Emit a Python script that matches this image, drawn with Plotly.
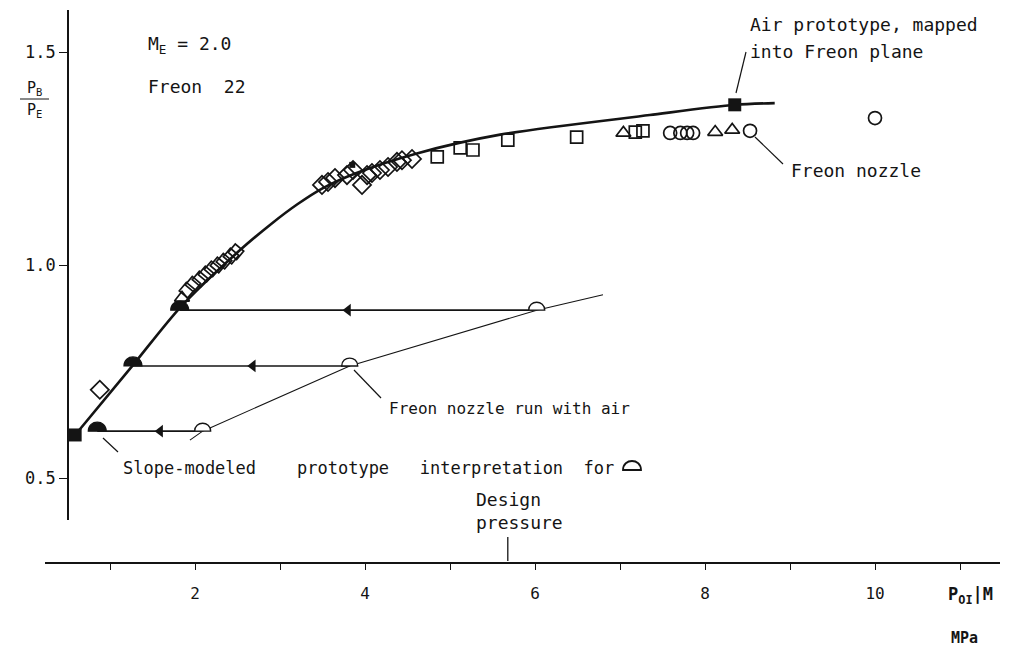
import plotly.graph_objects as go

W, H = 1013, 652
INK = "#141414"
FONT = "DejaVu Sans Mono"

# ---------------- data ----------------
# thick fitted curve through Freon nozzle data
curve_x = [0.59, 1.27, 1.82, 2.53, 2.90, 3.20, 3.50, 3.90, 4.61, 5.59, 7.35, 8.35, 8.82]
curve_y = [0.601, 0.765, 0.899, 1.035, 1.097, 1.142, 1.180, 1.216, 1.262, 1.306, 1.352, 1.376, 1.380]

# thin line: Freon nozzle run with air
air_x = [1.94, 2.09, 3.82, 6.02, 6.80]
air_y = [0.589, 0.610, 0.763, 0.894, 0.930]

# slope-modelled interpretation (horizontal arrows)
interp_level = [0.610, 0.763, 0.894]
interp_open_x = [2.09, 3.82, 6.02]     # open half-circles on the air line
interp_black_x = [0.85, 1.27, 1.82]    # filled half-circles (prototype interpretation)
interp_arrow_x = [1.59, 2.68, 3.80]

# Freon nozzle data
tilted_x = [1.906, 1.976, 2.059, 2.129, 2.200, 2.271, 2.341, 2.424, 2.482]
tilted_y = [0.941, 0.955, 0.967, 0.979, 0.991, 1.000, 1.009, 1.021, 1.031]
diam_x = [0.88, 3.494, 3.565, 3.647, 3.788, 3.859, 3.965, 4.024, 4.082, 4.176, 4.271, 4.376, 4.435, 4.553]
diam_y = [0.707, 1.188, 1.195, 1.204, 1.211, 1.223, 1.188, 1.211, 1.216, 1.223, 1.230, 1.242, 1.246, 1.249]
sq_x = [4.85, 5.12, 5.27, 5.68, 6.49, 7.18, 7.27]
sq_y = [1.254, 1.275, 1.270, 1.293, 1.300, 1.312, 1.315]
tri_x = [1.847, 7.04, 8.12, 8.32]
tri_y = [0.923, 1.310, 1.312, 1.317]
circ_x = [7.59, 7.71, 7.79, 7.86, 8.53, 10.0]
circ_y = [1.310, 1.310, 1.310, 1.310, 1.315, 1.345]
small_black_x = [3.85]
small_black_y = [1.235]

# air prototype, mapped into Freon plane
proto_x = [0.59, 8.35]
proto_y = [0.601, 1.376]

design_pressure = 5.68

x_tickvals = [2, 4, 6, 8, 10]
x_ticktext = ["2", "4", "6", "8", "10"]
y_tickvals = [0.5, 1.0, 1.5]
y_ticktext = ["0.5", "1.0", "1.5"]

# ---------------- figure ----------------
def px(x):
    return x / W


def py(y):
    return 1 - y / H


fig = go.Figure()

fig.add_trace(go.Scatter(x=curve_x, y=curve_y, mode="lines",
                         line=dict(color=INK, width=2.6, shape="spline", smoothing=0.8),
                         hoverinfo="skip"))
fig.add_trace(go.Scatter(x=air_x, y=air_y, mode="lines",
                         line=dict(color=INK, width=1.1), hoverinfo="skip"))
for lvl, xo, xb in zip(interp_level, interp_open_x, interp_black_x):
    fig.add_trace(go.Scatter(x=[xo, xb], y=[lvl, lvl], mode="lines",
                             line=dict(color=INK, width=1.6), hoverinfo="skip"))
fig.add_trace(go.Scatter(x=interp_arrow_x, y=interp_level, mode="markers",
                         marker=dict(symbol="triangle-left", size=11, color=INK),
                         hoverinfo="skip"))

mk_line = dict(color=INK, width=1.7)
fig.add_trace(go.Scatter(x=tilted_x, y=tilted_y, mode="markers",
                         marker=dict(symbol="square-open", size=11, angle=40, line=mk_line, color=INK)))
fig.add_trace(go.Scatter(x=diam_x, y=diam_y, mode="markers",
                         marker=dict(symbol="diamond-open", size=14, line=mk_line, color=INK)))
fig.add_trace(go.Scatter(x=sq_x, y=sq_y, mode="markers",
                         marker=dict(symbol="square-open", size=12, line=mk_line, color=INK)))
fig.add_trace(go.Scatter(x=tri_x, y=tri_y, mode="markers",
                         marker=dict(symbol="triangle-up-open", size=13, line=mk_line, color=INK)))
fig.add_trace(go.Scatter(x=circ_x, y=circ_y, mode="markers",
                         marker=dict(symbol="circle-open", size=13, line=mk_line, color=INK)))
fig.add_trace(go.Scatter(x=small_black_x, y=small_black_y, mode="markers",
                         marker=dict(symbol="square", size=6, color=INK)))
fig.add_trace(go.Scatter(x=proto_x, y=proto_y, mode="markers",
                         marker=dict(symbol="square", size=13, color=INK)))
fig.add_trace(go.Scatter(x=interp_open_x, y=[v + 0.006 for v in interp_level], mode="markers",
                         marker=dict(symbol="circle", size=3, color=INK)))

dome_big = "M -9,0 C -9,12 9,12 9,0 Z"
dome = "M -8,0 C -8,10.5 8,10.5 8,0 Z"
shapes = []
for lvl, xo, xb in zip(interp_level, interp_open_x, interp_black_x):
    shapes.append(dict(type="path", path=dome_big, xref="x", yref="y", xanchor=xb, yanchor=lvl,
                       xsizemode="pixel", ysizemode="pixel", fillcolor=INK,
                       line=dict(color=INK, width=1.2)))
    shapes.append(dict(type="path", path=dome, xref="x", yref="y", xanchor=xo, yanchor=lvl,
                       xsizemode="pixel", ysizemode="pixel", fillcolor="white",
                       line=dict(color=INK, width=1.4)))

# leader lines (paper coordinates, from pixel positions)
def seg(x0, y0, x1, y1, w=1.2):
    return dict(type="line", xref="paper", yref="paper", x0=px(x0), y0=py(y0),
                x1=px(x1), y1=py(y1), line=dict(color=INK, width=w))

shapes += [
    seg(736, 93, 746, 52),      # air prototype
    seg(755, 137, 783, 164),    # freon nozzle
    seg(354, 370, 381, 398),    # run with air
    seg(103, 438, 118, 452),    # slope-modeled
    seg(20, 99, 49, 99, 1.0),   # fraction bar
]
# dome symbol inside the text "for ..."
shapes.append(dict(type="path", path=dome_big, xref="paper", yref="paper",
                   xanchor=px(632), yanchor=py(470), xsizemode="pixel", ysizemode="pixel",
                   fillcolor="white", line=dict(color=INK, width=1.8)))
# design pressure marker
shapes.append(dict(type="line", xref="x", yref="paper", x0=design_pressure, x1=design_pressure,
                   y0=py(537), y1=py(561), line=dict(color=INK, width=1.3)))

def txt(x, y, s, size=18, xanchor="left", align="left"):
    return dict(x=px(x), y=py(y), xref="paper", yref="paper", text=s, showarrow=False,
                xanchor=xanchor, yanchor="middle", align=align,
                font=dict(family=FONT, size=size, color=INK))

annotations = [
    txt(146, 45, "M<sub>E</sub> = 2.0"),
    txt(146, 86, "Freon  22"),
    txt(748, 24, "Air prototype, mapped"),
    txt(748, 52, "into Freon plane"),
    txt(789, 171, "Freon nozzle"),
    txt(387, 408, "Freon nozzle run with air", size=16),
    txt(121, 468, "Slope-modeled    prototype   interpretation  for", size=17),
    txt(474, 511, "Design<br>pressure"),
    txt(34, 88, "P<sub>B</sub>", size=15, xanchor="center"),
    txt(34, 110, "P<sub>E</sub>", size=15, xanchor="center"),
    txt(946, 595, "<b>P<sub>OI</sub>|M</b>", size=17),
    txt(949, 638, "<b>MPa</b>", size=15),
]

x_rng = [(45 - 25) / 85, (1000 - 25) / 85]
y_rng = [0.5 - (520 - 478) / 426, 0.5 + (478 - 10) / 426]

fig.update_layout(
    width=W, height=H,
    margin=dict(l=0, r=0, t=0, b=0),
    paper_bgcolor="white", plot_bgcolor="white",
    showlegend=False,
    shapes=shapes,
    annotations=annotations,
    xaxis=dict(domain=[45 / W, 1000 / W], range=x_rng, anchor="free", position=(H - 563) / H,
               showline=True, linecolor=INK, linewidth=1.6, showgrid=False, zeroline=False,
               tickmode="array", tickvals=x_tickvals, ticktext=x_ticktext,
               ticks="outside", ticklen=6, tickwidth=1.2, tickcolor=INK,
               minor=dict(dtick=1, tick0=0, ticks="outside", ticklen=6, tickwidth=1.2,
                          tickcolor=INK, showgrid=False),
               ticklabelstandoff=10,
               tickfont=dict(family=FONT, size=16, color=INK), automargin=False),
    yaxis=dict(domain=[(H - 520) / H, (H - 10) / H], range=y_rng, anchor="free", position=68 / W,
               showline=True, linecolor=INK, linewidth=1.6, showgrid=False, zeroline=False,
               tickmode="array", tickvals=y_tickvals, ticktext=y_ticktext,
               ticks="outside", ticklen=8, tickwidth=1.2, tickcolor=INK,
               tickfont=dict(family=FONT, size=17, color=INK), automargin=False),
)

fig.write_html("out.html")
